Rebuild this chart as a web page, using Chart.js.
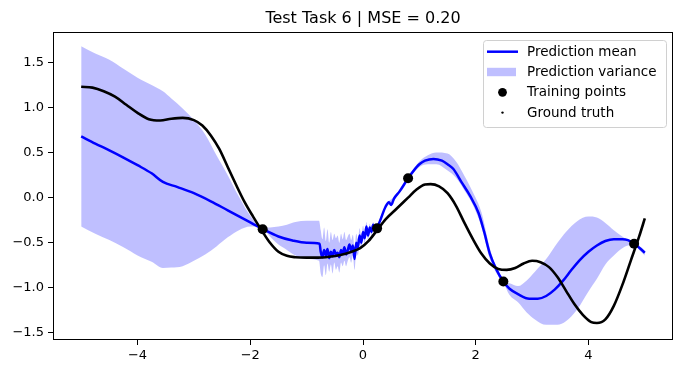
<!DOCTYPE html>
<html>
<head>
<meta charset="utf-8">
<script src="https://cdn.jsdelivr.net/npm/chart.js@4.4.1/dist/chart.umd.min.js"></script>
<style>
    html, body { margin: 0; padding: 0; background: #fff; }
</style>
</head>
<body>
<canvas id="chart-gp" width="683" height="374"></canvas>
<script>
const titleText = 'Test Task 6 | MSE = 0.20'
const legendLabels = ['Prediction mean', 'Prediction variance', 'Training points', 'Ground truth']
const xTicks = [-4, -2, 0, 2, 4]
const yTicks = [-1.5, -1.0, -0.5, 0.0, 0.5, 1.0, 1.5]

// ground truth
const gtX = [-5.0, -4.8, -4.6, -4.4, -4.2, -4.0, -3.8, -3.6, -3.4, -3.2, -3.0, -2.85, -2.7, -2.55, -2.4, -2.25, -2.1, -1.95, -1.8, -1.65, -1.5, -1.35, -1.2, -1.0, -0.8, -0.6, -0.4, -0.2, -0.05, 0.1, 0.25, 0.4, 0.6, 0.8, 0.95, 1.1, 1.2, 1.35, 1.5, 1.65, 1.8, 1.95, 2.1, 2.25, 2.4, 2.55, 2.7, 2.85, 3.0, 3.15, 3.3, 3.45, 3.6, 3.75, 3.9, 4.05, 4.15, 4.3, 4.45, 4.6, 4.75, 4.9, 5.0]
const gtY = [1.23, 1.22, 1.18, 1.12, 1.03, 0.94, 0.87, 0.855, 0.875, 0.885, 0.86, 0.80, 0.69, 0.54, 0.34, 0.14, -0.05, -0.21, -0.36, -0.50, -0.60, -0.645, -0.66, -0.665, -0.665, -0.655, -0.635, -0.60, -0.56, -0.48, -0.36, -0.24, -0.12, 0.0, 0.09, 0.145, 0.15, 0.125, 0.05, -0.09, -0.28, -0.46, -0.62, -0.73, -0.79, -0.80, -0.78, -0.73, -0.70, -0.715, -0.77, -0.88, -1.03, -1.18, -1.30, -1.38, -1.39, -1.35, -1.20, -0.97, -0.70, -0.43, -0.23]

const meanX = [-5.0, -4.75, -4.5, -4.25, -4.0, -3.75, -3.55, -3.3, -3.0, -2.7, -2.4, -2.1, -1.8, -1.5, -1.25, -1.0, -0.77,
    -0.75, -0.72, -0.69, -0.66, -0.63, -0.60, -0.57, -0.54, -0.51, -0.48, -0.45, -0.42, -0.39, -0.36, -0.33, -0.30, -0.27, -0.24, -0.21, -0.18, -0.15, -0.12, -0.09, -0.06, -0.03, 0.0, 0.03, 0.06, 0.09, 0.12, 0.15, 0.18, 0.21, 0.25,
    0.30, 0.40, 0.46, 0.50, 0.55, 0.65, 0.80, 0.9, 1.0, 1.1, 1.25, 1.4, 1.5, 1.6, 1.75, 1.9, 2.05, 2.15, 2.25, 2.37, 2.49, 2.6, 2.75, 2.95, 3.1, 3.25, 3.4, 3.55, 3.7, 3.85, 4.0, 4.15, 4.3, 4.45, 4.6, 4.7, 4.81, 4.9, 5.0]
const meanY = [0.68, 0.60, 0.525, 0.445, 0.36, 0.27, 0.175, 0.12, 0.05, -0.04, -0.14, -0.24, -0.34, -0.43, -0.475, -0.50, -0.51,
    -0.60, -0.66, -0.58, -0.64, -0.57, -0.67, -0.60, -0.65, -0.58, -0.63, -0.61, -0.66, -0.58, -0.62, -0.55, -0.63, -0.58, -0.52, -0.59, -0.53, -0.68, -0.50, -0.55, -0.42, -0.50, -0.38, -0.45, -0.32, -0.42, -0.33, -0.38, -0.30, -0.36, -0.33,
    -0.26, -0.10, -0.05, -0.08, -0.01, 0.07, 0.215, 0.30, 0.37, 0.41, 0.43, 0.41, 0.37, 0.32, 0.17, 0.02, -0.17, -0.38, -0.62, -0.80, -0.93, -1.01, -1.07, -1.12, -1.12, -1.09, -1.02, -0.92, -0.80, -0.69, -0.60, -0.53, -0.48, -0.46, -0.46, -0.47, -0.51, -0.555, -0.61]

const bandX = [-5.0, -4.75, -4.5, -4.25, -4.0, -3.75, -3.55, -3.4, -3.2, -3.0, -2.8, -2.6, -2.4, -2.2, -2.0, -1.78, -1.65, -1.5, -1.35, -1.2, -1.0, -0.78,
    -0.75, -0.72, -0.69, -0.66, -0.63, -0.60, -0.57, -0.54, -0.51, -0.48, -0.45, -0.42, -0.39, -0.36, -0.33, -0.30, -0.27, -0.24, -0.21, -0.18, -0.15, -0.12, -0.09, -0.06, -0.03, 0.0, 0.03, 0.06, 0.09, 0.12, 0.15, 0.18, 0.21, 0.25,
    0.30, 0.40, 0.55, 0.80, 1.0, 1.15, 1.3, 1.5, 1.65, 1.8, 1.95, 2.1, 2.25, 2.37, 2.49, 2.6, 2.75, 2.9, 3.05, 3.25, 3.45, 3.6, 3.8, 4.0, 4.15, 4.3, 4.45, 4.6, 4.7, 4.81, 4.9, 5.0]
const bandUpper = [1.68, 1.60, 1.53, 1.43, 1.33, 1.25, 1.18, 1.10, 0.99, 0.86, 0.70, 0.47, 0.25, 0.01, -0.20, -0.335, -0.33, -0.32, -0.30, -0.27, -0.255, -0.255,
    -0.36, -0.46, -0.33, -0.48, -0.35, -0.50, -0.38, -0.47, -0.40, -0.45, -0.42, -0.50, -0.40, -0.46, -0.38, -0.47, -0.43, -0.40, -0.47, -0.41, -0.55, -0.40, -0.46, -0.34, -0.43, -0.31, -0.39, -0.27, -0.37, -0.29, -0.34, -0.27, -0.33, -0.31,
    -0.24, -0.08, 0.01, 0.23, 0.40, 0.47, 0.50, 0.49, 0.40, 0.24, 0.06, -0.16, -0.56, -0.78, -0.92, -0.95, -0.98, -0.92, -0.82, -0.68, -0.50, -0.38, -0.26, -0.21, -0.22, -0.28, -0.36, -0.43, -0.47, -0.50, -0.53, -0.59]
const bandLower = [-0.32, -0.40, -0.47, -0.55, -0.64, -0.71, -0.78, -0.775, -0.76, -0.70, -0.63, -0.54, -0.44, -0.36, -0.32, -0.345, -0.43, -0.52, -0.58, -0.64, -0.68, -0.70,
    -0.84, -0.88, -0.75, -0.86, -0.73, -0.82, -0.74, -0.84, -0.72, -0.80, -0.76, -0.83, -0.72, -0.76, -0.70, -0.76, -0.70, -0.66, -0.72, -0.64, -0.80, -0.61, -0.64, -0.50, -0.57, -0.45, -0.51, -0.37, -0.47, -0.37, -0.42, -0.33, -0.39, -0.35,
    -0.28, -0.12, -0.03, 0.20, 0.34, 0.37, 0.37, 0.30, 0.22, 0.08, -0.08, -0.32, -0.68, -0.84, -0.94, -1.08, -1.16, -1.27, -1.35, -1.41, -1.41, -1.37, -1.24, -1.04, -0.90, -0.74, -0.64, -0.56, -0.53, -0.52, -0.58, -0.64]

const trainX = [-1.78, 0.25, 0.80, 2.49, 4.81]
const trainY = [-0.35, -0.34, 0.215, -0.93, -0.51]

const FONT = '"DejaVu Sans", "Liberation Sans", sans-serif'
const BLUE = '#0000ff'
const BAND = 'rgba(0, 0, 255, 0.25)'

const toPoints = (xs, ys) => xs.map((x, i) => ({ x: x, y: ys[i] }))
const minus = s => s.replace('-', '\u2212')

// frame, title and legend the way matplotlib draws them
const decorPlugin = {
    id: 'decor',
    afterDraw(chart) {
        const ctx = chart.ctx
        const a = chart.chartArea
        ctx.save()

        ctx.strokeStyle = '#000'
        ctx.lineWidth = 1
        ctx.strokeRect(a.left + 0.5, a.top + 0.5, a.right - a.left - 1, a.bottom - a.top - 1)

        ctx.fillStyle = '#000'
        ctx.font = '16px ' + FONT
        ctx.textAlign = 'center'
        ctx.textBaseline = 'alphabetic'
        ctx.fillText(titleText, (a.left + a.right) / 2, 23)

        const boxW = 183, boxH = 87
        const boxX = a.right - 7 - boxW
        const boxY = a.top + 8
        ctx.beginPath()
        ctx.roundRect(boxX + 0.5, boxY + 0.5, boxW, boxH, 3)
        ctx.fillStyle = 'rgba(255,255,255,0.8)'
        ctx.fill()
        ctx.strokeStyle = '#d0d0d0'
        ctx.stroke()

        const hx0 = boxX + 4, hx1 = boxX + 35
        const hxm = (hx0 + hx1) / 2
        legendLabels.forEach((label, i) => {
            const ry = boxY + 11.7 + i * 20.3
            if (i === 0) {
                ctx.strokeStyle = BLUE
                ctx.lineWidth = 2.5
                ctx.beginPath()
                ctx.moveTo(hx0, ry)
                ctx.lineTo(hx1, ry)
                ctx.stroke()
            } else if (i === 1) {
                ctx.fillStyle = BAND
                ctx.fillRect(hx0, ry - 4.2, hx1 - hx0 - 2, 8.4)
            } else {
                ctx.fillStyle = '#000'
                ctx.beginPath()
                ctx.arc(hxm, ry, i === 2 ? 4.4 : 1.2, 0, Math.PI * 2)
                ctx.fill()
            }
            ctx.fillStyle = '#000'
            ctx.font = '13.5px ' + FONT
            ctx.textAlign = 'left'
            ctx.textBaseline = 'middle'
            ctx.fillText(label, boxX + 44, ry + 0.5)
        })

        ctx.restore()
    }
}

const axisStyle = {
    grid: { drawOnChartArea: false, drawTicks: true, tickLength: 5, tickColor: '#000' },
    border: { display: false },
}

new Chart(document.getElementById('chart-gp').getContext('2d'), {
    type: 'line',
    data: {
        datasets: [
            {
                label: 'Ground truth',
                data: toPoints(gtX, gtY),
                borderColor: '#000',
                borderWidth: 2.6,
                pointRadius: 0,
                cubicInterpolationMode: 'monotone',
                fill: false,
                order: 0,
            },
            {
                label: 'Training points',
                data: toPoints(trainX, trainY),
                showLine: false,
                pointRadius: 5,
                pointBackgroundColor: '#000',
                pointBorderWidth: 0,
                borderColor: '#000',
                order: 1,
            },
            {
                label: 'Prediction mean',
                data: toPoints(meanX, meanY),
                borderColor: BLUE,
                borderWidth: 2.5,
                pointRadius: 0,
                cubicInterpolationMode: 'monotone',
                fill: false,
                order: 2,
            },
            {
                label: 'Prediction variance',
                data: toPoints(bandX, bandUpper),
                borderWidth: 0,
                borderColor: 'rgba(0,0,0,0)',
                backgroundColor: BAND,
                pointRadius: 0,
                cubicInterpolationMode: 'monotone',
                fill: '+1',
                order: 3,
            },
            {
                label: 'variance lower',
                data: toPoints(bandX, bandLower),
                borderWidth: 0,
                borderColor: 'rgba(0,0,0,0)',
                pointRadius: 0,
                cubicInterpolationMode: 'monotone',
                fill: false,
                order: 4,
            },
        ]
    },
    options: {
        responsive: false,
        animation: false,
        devicePixelRatio: 1,
        layout: { padding: { left: 0, top: 32, right: 10, bottom: 0 } },
        plugins: {
            legend: { display: false },
            tooltip: { enabled: false },
            title: { display: false },
        },
        scales: {
            x: {
                type: 'linear',
                min: -5.5,
                max: 5.5,
                ...axisStyle,
                afterBuildTicks: s => { s.ticks = xTicks.map(v => ({ value: v })) },
                afterFit: s => { s.height = 34 },
                ticks: {
                    color: '#000',
                    font: { family: FONT, size: 13 },
                    padding: 3,
                    maxRotation: 0,
                    autoSkip: false,
                    callback: v => minus(String(v)),
                },
            },
            y: {
                type: 'linear',
                min: -1.578,
                max: 1.837,
                ...axisStyle,
                afterBuildTicks: s => { s.ticks = yTicks.map(v => ({ value: v })) },
                afterFit: s => { s.width = 53 },
                ticks: {
                    color: '#000',
                    font: { family: FONT, size: 13 },
                    padding: 4,
                    autoSkip: false,
                    callback: v => minus(Number(v).toFixed(1)),
                },
            },
        },
    },
    plugins: [decorPlugin],
})
</script>
</body>
</html>
